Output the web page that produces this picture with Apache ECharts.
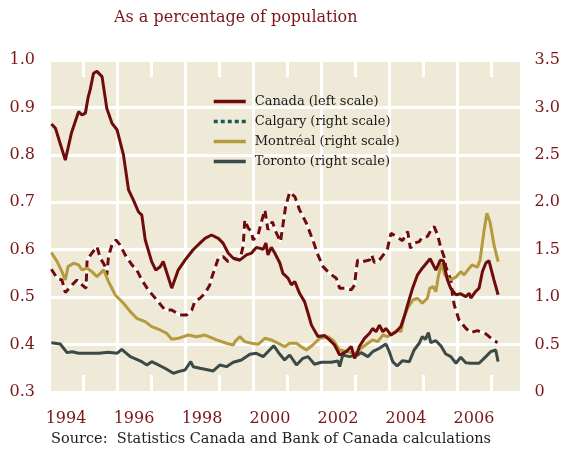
<!DOCTYPE html>
<html>
<head>
<meta charset="utf-8">
<script src="https://cdn.jsdelivr.net/npm/echarts@6/dist/echarts.min.js"></script>
<style>
	body { margin: 0; background: #ffffff; }
	#main { width: 563px; height: 453px; }
</style>
</head>
<body>
<div id="main"></div>
<script>
// [year, value] pairs
var canada = [[1994.07,0.865],[1994.19,0.856],[1994.48,0.789],[1994.66,0.846],[1994.87,0.891],[1994.97,0.884],[1995.07,0.888],[1995.15,0.921],[1995.21,0.937],[1995.31,0.972],[1995.41,0.976],[1995.56,0.965],[1995.70,0.898],[1995.85,0.867],[1996.0,0.853],[1996.19,0.800],[1996.34,0.726],[1996.48,0.705],[1996.63,0.680],[1996.73,0.673],[1996.83,0.621],[1997.02,0.575],[1997.14,0.557],[1997.27,0.564],[1997.36,0.575],[1997.61,0.519],[1997.80,0.557],[1998.0,0.578],[1998.24,0.600],[1998.44,0.614],[1998.59,0.624],[1998.78,0.631],[1998.98,0.624],[1999.12,0.614],[1999.27,0.593],[1999.42,0.582],[1999.61,0.578],[1999.81,0.589],[1999.96,0.593],[2000.10,0.605],[2000.30,0.601],[2000.38,0.614],[2000.44,0.589],[2000.54,0.605],[2000.64,0.593],[2000.79,0.572],[2000.88,0.550],[2001.03,0.540],[2001.13,0.526],[2001.23,0.533],[2001.37,0.508],[2001.52,0.490],[2001.62,0.466],[2001.72,0.441],[2001.91,0.417],[2002.11,0.419],[2002.25,0.410],[2002.40,0.399],[2002.55,0.378],[2002.74,0.385],[2002.89,0.396],[2002.99,0.371],[2003.08,0.385],[2003.13,0.396],[2003.28,0.413],[2003.43,0.424],[2003.52,0.434],[2003.62,0.427],[2003.72,0.441],[2003.82,0.427],[2003.91,0.434],[2004.06,0.420],[2004.21,0.427],[2004.35,0.438],[2004.45,0.459],[2004.55,0.484],[2004.70,0.520],[2004.84,0.547],[2004.98,0.561],[2005.21,0.581],[2005.38,0.557],[2005.51,0.578],[2005.60,0.577],[2005.72,0.536],[2005.82,0.518],[2005.97,0.505],[2006.11,0.507],[2006.26,0.501],[2006.36,0.508],[2006.41,0.498],[2006.55,0.512],[2006.65,0.519],[2006.75,0.554],[2006.85,0.572],[2006.94,0.577],[2007.09,0.536],[2007.21,0.505]];

var calgary = [[1994.07,1.294],[1994.24,1.199],[1994.38,1.181],[1994.48,1.048],[1994.68,1.129],[1994.82,1.181],[1994.97,1.129],[1995.09,1.094],[1995.12,1.392],[1995.26,1.463],[1995.41,1.533],[1995.51,1.410],[1995.63,1.340],[1995.70,1.234],[1995.75,1.427],[1995.85,1.551],[1995.97,1.603],[1996.09,1.551],[1996.24,1.445],[1996.44,1.340],[1996.58,1.287],[1996.73,1.181],[1996.92,1.076],[1997.17,0.970],[1997.41,0.865],[1997.61,0.865],[1997.85,0.812],[1998.05,0.812],[1998.20,0.865],[1998.29,0.953],[1998.44,0.988],[1998.59,1.041],[1998.73,1.129],[1998.78,1.199],[1998.98,1.410],[1999.12,1.427],[1999.27,1.375],[1999.42,1.410],[1999.61,1.392],[1999.71,1.533],[1999.76,1.814],[1999.86,1.727],[1999.96,1.691],[2000.0,1.603],[2000.15,1.656],[2000.25,1.796],[2000.35,1.920],[2000.44,1.709],[2000.57,1.796],[2000.67,1.691],[2000.81,1.585],[2000.96,1.955],[2001.08,2.106],[2001.23,2.060],[2001.37,1.920],[2001.57,1.779],[2001.76,1.603],[2001.91,1.445],[2002.06,1.322],[2002.25,1.252],[2002.45,1.199],[2002.55,1.094],[2002.74,1.094],[2002.89,1.076],[2002.99,1.129],[2003.04,1.300],[2003.08,1.392],[2003.23,1.375],[2003.43,1.392],[2003.49,1.445],[2003.57,1.364],[2003.72,1.392],[2003.87,1.463],[2003.96,1.516],[2004.06,1.674],[2004.21,1.638],[2004.40,1.596],[2004.55,1.691],[2004.63,1.516],[2004.74,1.569],[2004.89,1.585],[2004.98,1.632],[2005.13,1.638],[2005.25,1.716],[2005.33,1.744],[2005.43,1.656],[2005.53,1.516],[2005.62,1.427],[2005.67,1.322],[2005.82,1.181],[2005.87,1.023],[2005.92,0.918],[2006.06,0.759],[2006.26,0.672],[2006.41,0.626],[2006.60,0.647],[2006.85,0.612],[2007.04,0.556],[2007.19,0.520]];

var montreal = [[1994.07,1.469],[1994.24,1.375],[1994.38,1.269],[1994.48,1.181],[1994.56,1.322],[1994.72,1.357],[1994.87,1.340],[1994.97,1.287],[1995.12,1.305],[1995.26,1.269],[1995.41,1.216],[1995.61,1.287],[1995.75,1.164],[1995.95,1.023],[1996.19,0.936],[1996.39,0.847],[1996.58,0.777],[1996.83,0.742],[1997.02,0.689],[1997.27,0.654],[1997.46,0.619],[1997.61,0.556],[1997.80,0.566],[1998.10,0.601],[1998.34,0.583],[1998.59,0.600],[1998.93,0.549],[1999.22,0.514],[1999.42,0.496],[1999.47,0.531],[1999.61,0.583],[1999.76,0.531],[1999.96,0.514],[2000.15,0.503],[2000.35,0.566],[2000.54,0.549],[2000.74,0.514],[2000.93,0.478],[2001.08,0.514],[2001.28,0.514],[2001.42,0.478],[2001.57,0.443],[2001.76,0.496],[2001.96,0.566],[2002.20,0.583],[2002.35,0.549],[2002.55,0.443],[2002.79,0.425],[2002.98,0.400],[2003.18,0.461],[2003.38,0.514],[2003.52,0.549],[2003.67,0.531],[2003.82,0.601],[2003.96,0.583],[2004.11,0.619],[2004.26,0.654],[2004.35,0.636],[2004.45,0.794],[2004.55,0.883],[2004.70,0.970],[2004.84,0.988],[2004.98,0.936],[2005.13,0.988],[2005.20,1.094],[2005.30,1.111],[2005.38,1.058],[2005.45,1.216],[2005.55,1.357],[2005.64,1.234],[2005.80,1.181],[2005.97,1.210],[2006.11,1.269],[2006.21,1.234],[2006.36,1.305],[2006.45,1.340],[2006.60,1.315],[2006.68,1.392],[2006.80,1.709],[2006.88,1.885],[2006.97,1.796],[2007.09,1.551],[2007.21,1.375]];

var toronto = [[1994.07,0.520],[1994.33,0.506],[1994.53,0.415],[1994.68,0.425],[1994.87,0.408],[1995.16,0.408],[1995.46,0.408],[1995.75,0.418],[1996.0,0.408],[1996.14,0.450],[1996.39,0.373],[1996.73,0.320],[1996.88,0.285],[1997.02,0.320],[1997.22,0.285],[1997.41,0.250],[1997.66,0.197],[1997.80,0.215],[1998.0,0.232],[1998.17,0.320],[1998.24,0.267],[1998.44,0.250],[1998.59,0.239],[1998.83,0.222],[1999.03,0.285],[1999.22,0.267],[1999.42,0.313],[1999.66,0.338],[1999.91,0.397],[2000.10,0.408],[2000.30,0.373],[2000.44,0.425],[2000.61,0.488],[2000.79,0.397],[2000.93,0.338],[2001.08,0.390],[2001.28,0.285],[2001.47,0.355],[2001.62,0.373],[2001.81,0.292],[2002.01,0.313],[2002.30,0.313],[2002.50,0.327],[2002.55,0.267],[2002.64,0.390],[2002.84,0.373],[2003.08,0.390],[2003.18,0.415],[2003.38,0.373],[2003.52,0.425],[2003.72,0.461],[2003.91,0.506],[2004.01,0.425],[2004.11,0.320],[2004.24,0.274],[2004.40,0.330],[2004.60,0.320],[2004.74,0.443],[2004.89,0.514],[2004.98,0.583],[2005.07,0.556],[2005.16,0.626],[2005.23,0.520],[2005.38,0.541],[2005.53,0.485],[2005.67,0.401],[2005.82,0.373],[2005.97,0.303],[2006.11,0.366],[2006.26,0.309],[2006.41,0.303],[2006.65,0.303],[2006.85,0.373],[2006.99,0.425],[2007.14,0.443],[2007.21,0.320]];

// year labels sit in the middle of their year
var yearLabels = [1994.5, 1996.5, 1998.5, 2000.5, 2002.5, 2004.5, 2006.5];
var legendNames = ['Canada (left scale)', 'Calgary (right scale)', 'Montréal (right scale)', 'Toronto (right scale)'];

var red = '#6e0c0c';
var labelRed = '#7a1616';
var font = 'DejaVu Serif';

var myChart = echarts.init(document.getElementById('main'));

myChart.setOption({
	backgroundColor: '#ffffff',
	animation: false,
	title: [{
		text: 'As a percentage of population',
		left: 114, top: 10, padding: 0,
		textStyle: { fontFamily: font, fontSize: 16, fontWeight: 'normal', color: labelRed }
	}, {
		text: 'Source:  Statistics Canada and Bank of Canada calculations',
		left: 51, top: 432, padding: 0,
		textStyle: { fontFamily: font, fontSize: 14.5, fontWeight: 'normal', color: '#1e1e1e' }
	}],
	legend: {
		data: legendNames,
		orient: 'vertical',
		left: 207, top: 90,
		itemWidth: 32, itemHeight: 14, itemGap: 7,
		itemStyle: { opacity: 0 },
		lineStyle: { width: 3.5 },
		textStyle: { fontFamily: font, fontSize: 13, color: '#1a1a1a', padding: [0, 0, 0, 4] }
	},
	grid: {
		left: 49, right: 40, top: 60, bottom: 61,
		show: true, borderWidth: 0, backgroundColor: '#efe9d7'
	},
	xAxis: [{
		type: 'value', min: 1994, max: 2007.9, interval: 2,
		axisLine: { show: false },
		axisTick: { show: false, inside: true },
		minorTick: { show: true, splitNumber: 2, length: 17, lineStyle: { color: '#ffffff', width: 3 } },
		splitLine: { show: true, lineStyle: { color: '#ffffff', width: 3 } },
		axisLabel: {
			customValues: yearLabels, margin: 19,
			fontFamily: font, fontSize: 16, color: labelRed,
			formatter: function (v) { return String(Math.floor(v)); }
		}
	}, {
		type: 'value', min: 1994, max: 2007.9, interval: 2, position: 'top',
		axisLine: { show: false },
		axisTick: { show: false, inside: true },
		minorTick: { show: true, splitNumber: 2, length: 17, lineStyle: { color: '#ffffff', width: 3 } },
		splitLine: { show: false },
		axisLabel: { show: false }
	}],
	yAxis: [{
		type: 'value', min: 0.3, max: 1.0, interval: 0.1,
		axisLine: { show: false }, axisTick: { show: false },
		splitLine: { show: true, lineStyle: { color: '#ffffff', width: 3 } },
		axisLabel: {
			margin: 14, fontFamily: font, fontSize: 16, color: labelRed,
			formatter: function (v) { return v.toFixed(1); }
		}
	}, {
		type: 'value', min: 0, max: 3.5, interval: 0.5,
		axisLine: { show: false }, axisTick: { show: false },
		splitLine: { show: false },
		axisLabel: {
			margin: 13, fontFamily: font, fontSize: 16, color: labelRed,
			formatter: function (v) { return v === 0 ? '0' : v.toFixed(1); }
		}
	}],
	series: [
		// calgary: white line under a dashed red one
		{ name: 'calgary-base', type: 'line', yAxisIndex: 1, data: calgary, symbol: 'none', silent: true,
			lineStyle: { color: '#ffffff', width: 3 }, z: 2 },
		{ name: 'calgary-dash', type: 'line', yAxisIndex: 1, data: calgary, symbol: 'none', silent: true,
			lineStyle: { color: red, width: 3, type: [8, 5] }, z: 3 },
		// legend-only entry for calgary
		{ name: legendNames[1], type: 'line', yAxisIndex: 1, data: [], symbol: 'none',
			itemStyle: { color: '#1d5a5a' }, lineStyle: { color: '#1d5a5a', width: 3, type: [4, 3] } },
		{ name: legendNames[2], type: 'line', yAxisIndex: 1, data: montreal, symbol: 'none',
			itemStyle: { color: '#b59a3e' }, lineStyle: { color: '#b59a3e', width: 3 }, z: 4 },
		{ name: legendNames[3], type: 'line', yAxisIndex: 1, data: toronto, symbol: 'none',
			itemStyle: { color: '#3c4a47' }, lineStyle: { color: '#3c4a47', width: 3 }, z: 4 },
		{ name: legendNames[0], type: 'line', yAxisIndex: 0, data: canada, symbol: 'none',
			itemStyle: { color: red }, lineStyle: { color: red, width: 3 }, z: 5 }
	]
});
</script>
</body>
</html>
